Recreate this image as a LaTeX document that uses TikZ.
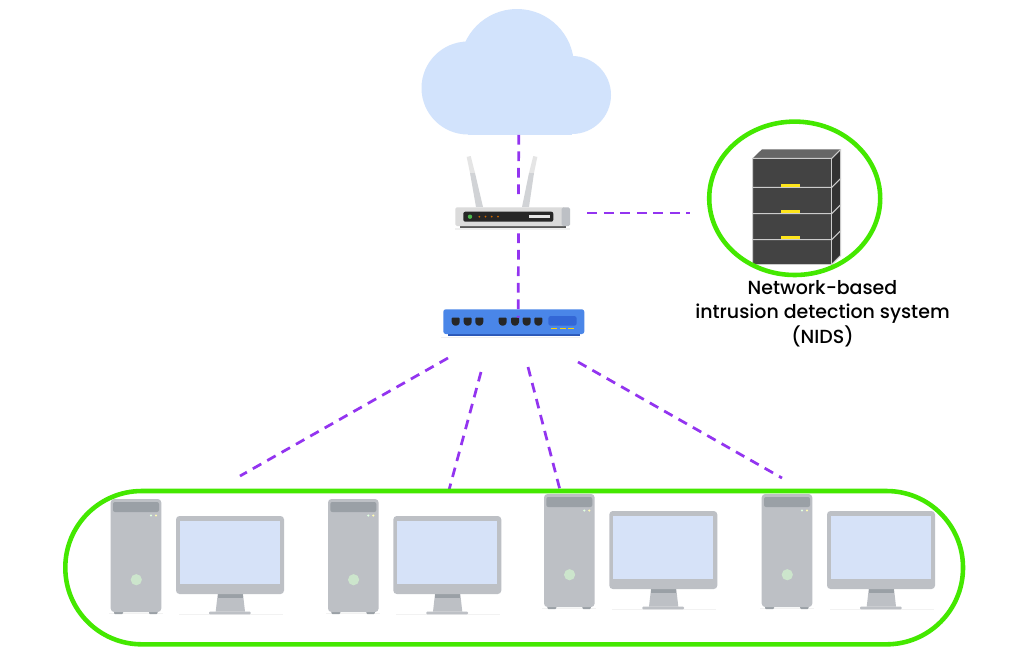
\documentclass[tikz,border=0pt]{standalone}
\usepackage{fontspec}
\setmainfont{Poppins Medium}
\usetikzlibrary{calc}

\definecolor{linkpurple}{HTML}{9334F0}
\definecolor{ringgreen}{HTML}{44E800}
\definecolor{cloudblue}{HTML}{D2E3FC}
\definecolor{screenblue}{HTML}{D6E2F8}
\definecolor{casegrey}{HTML}{BDC0C5}
\definecolor{baygrey}{HTML}{9AA0A6}
\definecolor{hubblue}{HTML}{4A86E8}
\definecolor{hubdark}{HTML}{3367D6}
\definecolor{serverdark}{HTML}{434343}

\begin{document}
\begin{tikzpicture}[
        x=0.02cm, y=-0.02cm,
        link/.style={linkpurple, line width=1.55pt, dash pattern=on 5.5pt off 3.9pt},
        ring/.style={draw=ringgreen, line width=2.6pt},
        device/.style={inner sep=0pt, minimum width=#1},
        device/.default=2cm,
        shelfline/.style={draw=black!20, line width=0.6pt},
        port/.style={fill=black!85, rounded corners=0.02cm},
        every node/.style={color=black}
    ]
    \useasboundingbox[fill=white] (0,0) rectangle (1026,670);

    % cloud
    \fill[cloudblue] (468,88) circle (46.5);
    \fill[cloudblue] (517,66) circle (57);
    \fill[cloudblue] (572,95) circle (39);
    \fill[cloudblue] (468,80) rectangle (572,134.5);
    \node (cloud) at (518.7,72) [device=3.8cm, minimum height=2.5cm] {};

    % anchors, the icons go on top of them
    \node (router) at (518.5,213) [device=2.74cm, minimum height=0.56cm] {};
    \node (hub) at (518.2,328) [device=2.82cm, minimum height=0.4cm] {};
    \node (nids) at (794.7,213) [device=4.19cm, minimum height=0.5cm] {};

    \coordinate (hubA) at (448,358);
    \coordinate (hubB) at (481,372);
    \coordinate (hubC) at (528,367);
    \coordinate (hubD) at (578,362);
    \coordinate (pcA) at (240,476);
    \coordinate (pcB) at (449,490);
    \coordinate (pcC) at (560,490);
    \coordinate (pcD) at (782,478);

    % router
    \fill[black!6] (455,228) rectangle (570,229.5);
    \fill[black!10] (466.7,157) -- (470.7,156) -- (475,173) -- (470,173) -- cycle;
    \fill[casegrey!70] (470,173) -- (475,173) -- (483,207) -- (476,207) -- cycle;
    \fill[black!10] (537.3,157) -- (533.3,156) -- (529,173) -- (534,173) -- cycle;
    \fill[casegrey!70] (534,173) -- (529,173) -- (522,207) -- (529,207) -- cycle;
    \fill[black!65] (460,226) rectangle (566,228.3);
    \fill[black!14, rounded corners=0.03cm] (455.3,207.3) rectangle (565,226);
    \fill[casegrey, rounded corners=0.03cm] (561.7,207.3) rectangle (570,226);
    \fill[black!85, rounded corners=0.04cm] (463.3,211.7) rectangle (553.3,221.7);
    \fill[green!60!black!70] (470,216.7) circle (2.2);
    \foreach \x in {479.3,485.5,491.7,498} {
        \fill[orange!80!black] (\x,216.7) circle (1);
    }
    \fill[white!90!black] (528.7,215.2) rectangle (550,218.2);

    % hub
    \fill[black!6] (441,337) rectangle (580,338);
    \fill[hubdark!85!black] (448,332) rectangle (580,336.3);
    \fill[hubblue, rounded corners=0.05cm] (443.3,309.3) rectangle (584.3,334);
    \fill[hubdark, rounded corners=0.05cm] (548.3,316) rectangle (576.7,325.7);
    \foreach \x in {551,559.5,568} {
        \fill[yellow!70!orange] (\x,328) rectangle (\x+6,329);
    }
    \foreach \x in {455.7,467.7,479.3,502.7,515,526.7,538.3} {
        \fill[port] (\x-4,317.5) -- (\x+4,317.5) -- (\x+4,323) -- (\x+2,325.5) -- (\x-2,325.5) -- (\x-4,323) -- cycle;
    }

    % links
    \draw[link] (cloud.south) -- (router.north);
    \draw[link, shorten <=0.12cm] (router.south) -- (hub.north);
    \draw[link] (router.east) -- (nids.west);
    \draw[link] (hubA) -- (pcA);
    \draw[link] (hubB) -- (pcB);
    \draw[link] (hubC) -- (pcC);
    \draw[link] (hubD) -- (pcD);

    % nids server
    \fill[black!60] (752.7,158.3) -- (762,149.3) -- (840.7,149.3) -- (831.7,158.3) -- cycle;
    \fill[black!80] (831.7,158.3) -- (840.7,149.3) -- (840.7,255.3) -- (831.7,264.3) -- cycle;
    \fill[serverdark] (752.7,158.3) rectangle (831.7,264.3);
    \draw[shelfline] (752.7,264.3) -- (752.7,158.3) -- (831.7,158.3) -- (840.7,149.3);
    \draw[shelfline] (831.7,158.3) -- (831.7,264.3) -- (752.7,264.3);
    \draw[shelfline] (831.7,264.3) -- (840.7,255.3) -- (840.7,149.3);
    \foreach \y in {187.3,213.7,239.7} {
        \draw[shelfline] (752.7,\y) -- (831.7,\y) -- (840.7,\y-9);
        \fill[yellow!85!orange!90] (780.7,\y-3.6) rectangle (800.3,\y-0.3);
    }
    \draw[ring] (794.7,198.3) ellipse (85.5 and 76.7);

    \node (nidslabel) at (822.5,313.5) [align=center, font=\fontsize{10.8pt}{13.9pt}\selectfont] {Network-based\\intrusion detection system\\(NIDS)};

    % computers
    \foreach \dx/\dy in {0/0, 217.3/0, 433.3/-5, 651/-5} {
        \begin{scope}[shift={(\dx,\dy)}]
            \fill[black!5] (109,612.5) rectangle (163,614);
            \fill[black!5] (179,614) rectangle (283,615.3);
            \fill[baygrey, rounded corners=0.02cm] (114,609) rectangle (123,614);
            \fill[baygrey, rounded corners=0.02cm] (149,609) rectangle (157.5,614);
            \fill[casegrey, rounded corners=0.07cm] (110.7,499) rectangle (161.3,612);
            \fill[baygrey, rounded corners=0.04cm] (113,502) rectangle (159,512);
            \fill[green!12!white] (151,515.5) circle (1.2);
            \fill[yellow!30!white] (156,515.5) circle (1.2);
            \fill[green!50!black!20] (136.3,579.7) circle (5.6);
            \fill[casegrey] (217.7,594) -- (243,594) -- (245,611.7) -- (215.7,611.7) -- cycle;
            \fill[baygrey] (217.7,594) rectangle (243,597.7);
            \fill[casegrey, rounded corners=0.02cm] (209,611.5) rectangle (250.7,614.3);
            \fill[casegrey, rounded corners=0.07cm] (176,516) rectangle (284,594);
            \fill[screenblue] (180,521) rectangle (280,584);
        \end{scope}
    }

    \draw[ring, rounded corners=1.53cm] (65.3,491) rectangle (963,644.3);
\end{tikzpicture}
\end{document}
